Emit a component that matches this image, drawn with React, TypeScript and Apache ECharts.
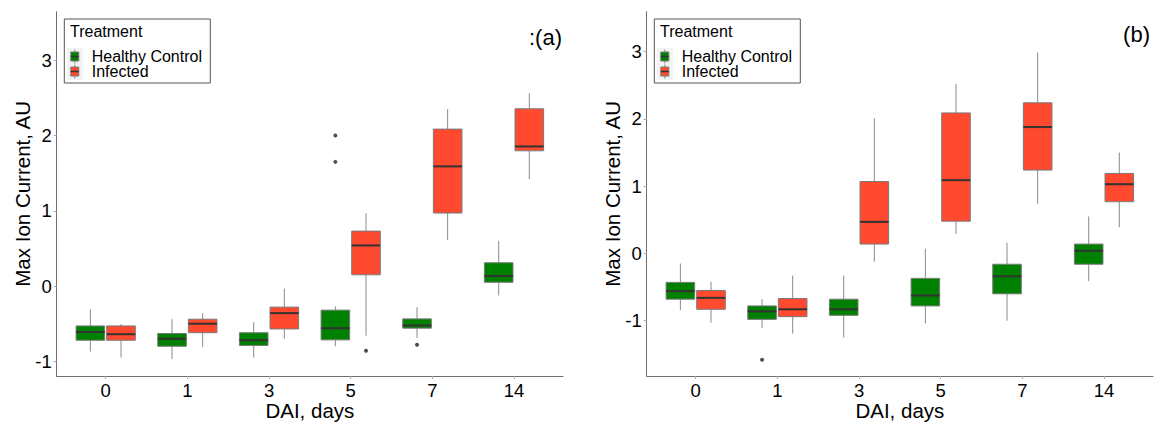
import React, { useEffect, useRef } from 'react';
import * as echarts from 'echarts';

const days = ['0', '1', '3', '5', '7', '14'];
const groups = ['Healthy Control', 'Infected'];
const yTicksA = [-1, 0, 1, 2, 3];
const yTicksB = [-1, 0, 1, 2, 3];

// [lower whisker, Q1, median, Q3, upper whisker]
const healthyA = [
  [-0.87, -0.72, -0.61, -0.53, -0.31],
  [-0.97, -0.8, -0.7, -0.63, -0.44],
  [-0.95, -0.79, -0.72, -0.62, -0.48],
  [-0.8, -0.715, -0.56, -0.32, -0.27],
  [-0.69, -0.56, -0.525, -0.436, -0.28],
  [-0.125, 0.05, 0.135, 0.31, 0.6],
];
const infectedA = [
  [-0.95, -0.72, -0.64, -0.53, -0.505],
  [-0.81, -0.62, -0.5, -0.44, -0.36],
  [-0.7, -0.57, -0.36, -0.28, -0.035],
  [-0.66, 0.15, 0.54, 0.73, 0.97],
  [0.61, 0.97, 1.59, 2.085, 2.35],
  [1.42, 1.797, 1.855, 2.355, 2.56],
];
// [day index, value]
const healthyAOut = [[3, 2.0], [3, 1.65], [4, -0.78]];
const infectedAOut = [[3, -0.86]];

const healthyB = [
  [-0.84, -0.68, -0.56, -0.43, -0.15],
  [-1.11, -0.98, -0.86, -0.78, -0.68],
  [-1.25, -0.92, -0.83, -0.68, -0.33],
  [-1.04, -0.78, -0.625, -0.37, 0.07],
  [-1.0, -0.6, -0.34, -0.16, 0.16],
  [-0.41, -0.16, 0.04, 0.14, 0.55],
];
const infectedB = [
  [-1.03, -0.83, -0.66, -0.55, -0.42],
  [-1.19, -0.94, -0.83, -0.67, -0.33],
  [-0.12, 0.14, 0.47, 1.07, 2.01],
  [0.29, 0.48, 1.09, 2.09, 2.52],
  [0.74, 1.24, 1.88, 2.24, 2.99],
  [0.39, 0.77, 1.03, 1.19, 1.5],
];
const healthyBOut = [[1, -1.58]];
const infectedBOut: number[][] = [];

const GREEN = '#008000';
const RED = '#FF4A2F';
const FONT = '"Liberation Sans", Arial, sans-serif';
const DODGE = 0.1875;
const BOXW = 0.35;

function renderBox(offset: number, color: string) {
  return (params: any, api: any) => {
    const x = api.value(0) + offset;
    const lo = api.value(1);
    const q1 = api.value(2);
    const med = api.value(3);
    const q3 = api.value(4);
    const hi = api.value(5);
    const tl = api.coord([x - BOXW / 2, q3]);
    const br = api.coord([x + BOXW / 2, q1]);
    const mc = api.coord([x, med]);
    const top = api.coord([x, hi]);
    const bot = api.coord([x, lo]);
    const wStyle = { stroke: '#8a8a8a', lineWidth: 1 };
    return {
      type: 'group',
      children: [
        { type: 'line', shape: { x1: top[0], y1: top[1], x2: top[0], y2: tl[1] }, style: wStyle },
        { type: 'line', shape: { x1: bot[0], y1: br[1], x2: bot[0], y2: bot[1] }, style: wStyle },
        {
          type: 'rect',
          shape: { x: tl[0], y: tl[1], width: br[0] - tl[0], height: br[1] - tl[1] },
          style: { fill: color, stroke: '#7a7a7a', lineWidth: 1 },
        },
        {
          type: 'line',
          shape: { x1: tl[0], y1: mc[1], x2: br[0], y2: mc[1] },
          style: { stroke: '#333333', lineWidth: 2 },
        },
      ],
    };
  };
}

function boxSeries(name: string, stats: number[][], offset: number, color: string, idx: number) {
  return {
    type: 'custom',
    name,
    xAxisIndex: idx,
    yAxisIndex: idx,
    itemStyle: { color },
    renderItem: renderBox(offset, color),
    encode: { x: 0, y: [1, 2, 3, 4, 5] },
    data: stats.map((s, i) => [i + 1, ...s]),
    z: 2,
  };
}

function outSeries(name: string, pts: number[][], offset: number, idx: number) {
  return {
    type: 'scatter',
    name,
    xAxisIndex: idx,
    yAxisIndex: idx,
    symbolSize: 4,
    itemStyle: { color: '#222222' },
    data: pts.map(([i, v]) => [i + 1 + offset, v]),
    z: 3,
  };
}

function xAxis(idx: number) {
  return {
    type: 'value',
    gridIndex: idx,
    min: 0.4,
    max: 6.6,
    name: 'DAI, days',
    nameLocation: 'middle',
    nameGap: 24,
    nameMoveOverlap: false,
    nameTextStyle: { fontSize: 20.5, color: '#000', fontFamily: FONT },
    axisLine: { show: true, onZero: false, lineStyle: { color: '#707070', width: 1 } },
    axisTick: { show: true, length: 3, lineStyle: { color: '#aaaaaa' }, customValues: [1, 2, 3, 4, 5, 6] },
    axisLabel: {
      margin: 5,
      fontSize: 18.5,
      color: '#000',
      fontFamily: FONT,
      customValues: [1, 2, 3, 4, 5, 6],
      formatter: (v: number) => days[Math.round(v) - 1] ?? '',
    },
    splitLine: { show: false },
  };
}

function yAxis(idx: number, min: number, max: number, ticks: number[]) {
  return {
    type: 'value',
    gridIndex: idx,
    min,
    max,
    name: 'Max Ion Current, AU',
    nameLocation: 'middle',
    nameGap: 24,
    nameMoveOverlap: false,
    nameRotate: 90,
    nameTextStyle: { fontSize: 20.5, color: '#000', fontFamily: FONT },
    axisLine: { show: true, onZero: false, lineStyle: { color: '#707070', width: 1 } },
    axisTick: { show: true, length: 3, lineStyle: { color: '#aaaaaa' }, customValues: ticks },
    axisLabel: {
      margin: 5,
      fontSize: 18.5,
      color: '#000',
      fontFamily: FONT,
      customValues: ticks,
      formatter: (v: number) => String(v),
    },
    splitLine: { show: false },
  };
}

function legendKey(x: number, yc: number, color: string) {
  return [
    {
      type: 'line',
      shape: { x1: x + 4, y1: yc - 7, x2: x + 4, y2: yc + 7 },
      style: { stroke: '#8a8a8a', lineWidth: 1 },
      z: 11,
    },
    {
      type: 'rect',
      shape: { x, y: yc - 4.5, width: 8, height: 9 },
      style: { fill: color, stroke: '#7a7a7a', lineWidth: 1 },
      z: 12,
    },
    {
      type: 'line',
      shape: { x1: x, y1: yc, x2: x + 8, y2: yc },
      style: { stroke: '#333333', lineWidth: 1.5 },
      z: 13,
    },
  ];
}

function legendGraphics(x0: number) {
  return [
    {
      type: 'rect',
      shape: { x: x0, y: 19, width: 146, height: 64 },
      style: { fill: '#ffffff', stroke: '#555555', lineWidth: 1 },
      z: 9,
    },
    {
      type: 'rect',
      shape: { x: x0 + 2.5, y: 48, width: 16, height: 32 },
      style: { fill: '#f2f2f2' },
      z: 10,
    },
    {
      type: 'text',
      x: x0 + 5.7,
      y: 31,
      style: { text: 'Treatment', fontSize: 16, fill: '#000', fontFamily: FONT, verticalAlign: 'middle' },
      z: 11,
    },
    ...legendKey(x0 + 6.5, 56.5, GREEN),
    {
      type: 'text',
      x: x0 + 27.4,
      y: 56.7,
      style: { text: groups[0], fontSize: 16, fill: '#000', fontFamily: FONT, verticalAlign: 'middle' },
      z: 11,
    },
    ...legendKey(x0 + 6.5, 71.5, RED),
    {
      type: 'text',
      x: x0 + 27.4,
      y: 71.7,
      style: { text: groups[1], fontSize: 16, fill: '#000', fontFamily: FONT, verticalAlign: 'middle' },
      z: 11,
    },
  ];
}

export default function App() {
  const ref = useRef<HTMLDivElement>(null);
  useEffect(() => {
    if (!ref.current) return;
    const chart = echarts.init(ref.current, undefined, { renderer: 'svg' });
    chart.setOption({
      animation: false,
      backgroundColor: '#ffffff',
      grid: [
        { left: 56.7, top: 11.7, width: 506.3, height: 364.3, containLabel: false, outerBoundsMode: 'none' },
        { left: 646.7, top: 11.7, width: 506.3, height: 364.3, containLabel: false, outerBoundsMode: 'none' },
      ],
      xAxis: [xAxis(0), xAxis(1)],
      yAxis: [yAxis(0, -1.195, 3.645, yTicksA), yAxis(1, -1.822, 3.595, yTicksB)],
      series: [
        boxSeries(groups[0], healthyA, -DODGE, GREEN, 0),
        boxSeries(groups[1], infectedA, DODGE, RED, 0),
        outSeries('outA1', healthyAOut, -DODGE, 0),
        outSeries('outA2', infectedAOut, DODGE, 0),
        boxSeries(groups[0], healthyB, -DODGE, GREEN, 1),
        boxSeries(groups[1], infectedB, DODGE, RED, 1),
        outSeries('outB1', healthyBOut, -DODGE, 1),
        outSeries('outB2', infectedBOut, DODGE, 1),
      ],
      graphic: [
        ...legendGraphics(64.3),
        ...legendGraphics(654.3),
        {
          type: 'text',
          x: 562,
          y: 37,
          style: { text: ':(a)', fontSize: 22, fill: '#000', fontFamily: FONT, align: 'right', verticalAlign: 'middle' },
        },
        {
          type: 'text',
          x: 1150,
          y: 34,
          style: { text: '(b)', fontSize: 22, fill: '#000', fontFamily: FONT, align: 'right', verticalAlign: 'middle' },
        },
      ],
    });
    return () => chart.dispose();
  }, []);
  return (
    <div
      ref={ref}
      style={{ position: 'fixed', left: 0, top: 0, width: 1158, height: 423, background: '#fff' }}
    />
  );
}
